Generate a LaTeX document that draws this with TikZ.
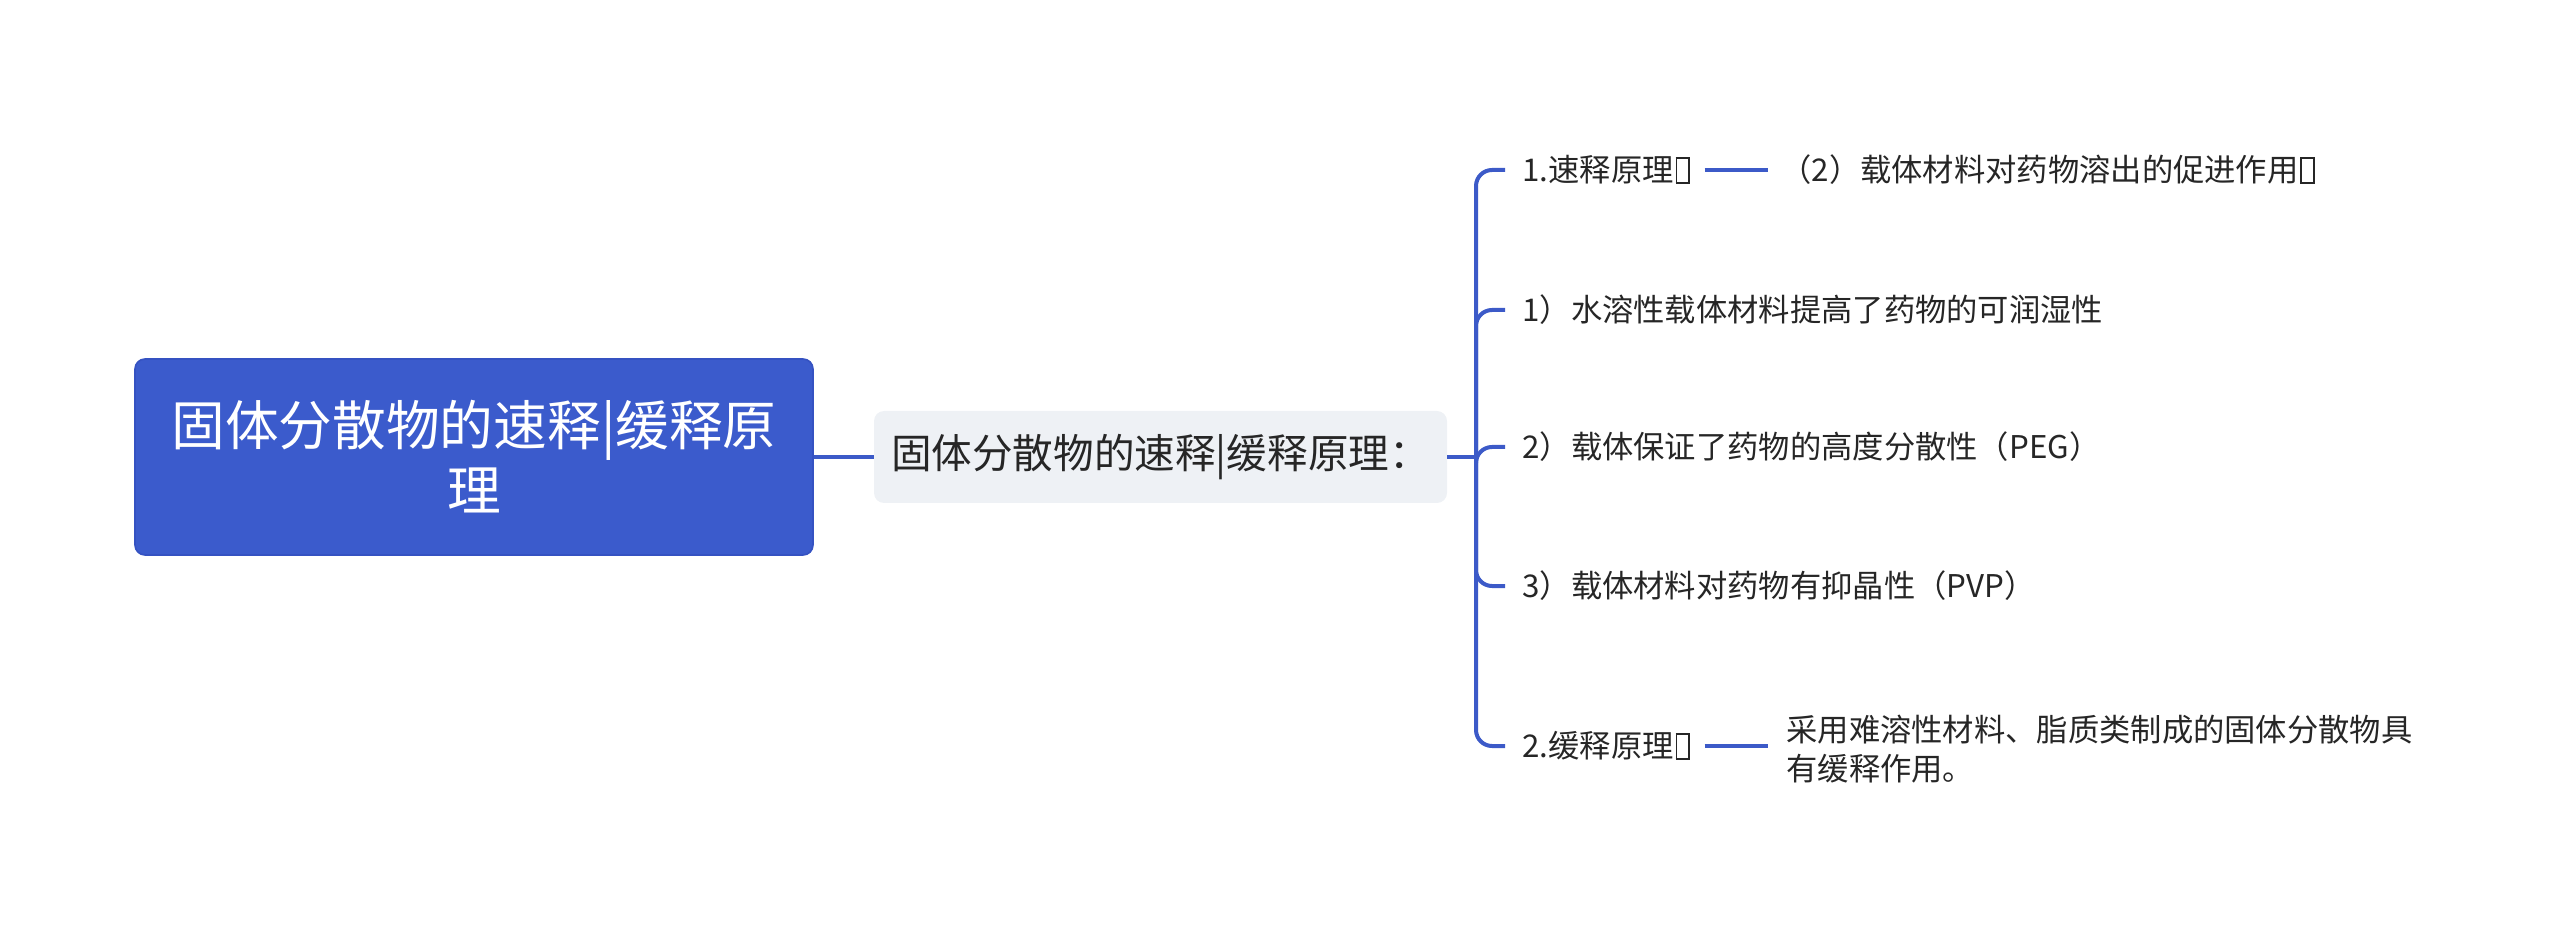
\documentclass[tikz,border=0pt]{standalone}
\usepackage{fontspec}
\setmainfont{Noto Sans CJK SC}
\definecolor{mainblue}{HTML}{3B5BCC}
\definecolor{mainedge}{HTML}{3552C2}
\definecolor{linkblue}{HTML}{3C5AC8}
\definecolor{subfill}{HTML}{EEF1F5}
\definecolor{txt}{HTML}{262626}
\newcommand\tofubox{\kern0.06em{\fboxsep=0pt\fboxrule=0.06em\fbox{\rule{0pt}{0.74em}\kern0.34em}}\kern0.04em}
\begin{document}
\begin{tikzpicture}[x=0.5pt,y=-0.5pt,
  rootbox/.style={draw=mainedge,line width=0.8pt,fill=mainblue,rounded corners=5pt,
    minimum width=339pt,minimum height=98pt,inner sep=0pt,text=white,align=center,
    font=\fontsize{26.85pt}{32.5pt}\selectfont},
  subbox/.style={fill=subfill,rounded corners=5pt,minimum width=286.5pt,minimum height=46pt,
    inner sep=0pt,text=txt,font=\fontsize{20.3pt}{24pt}\selectfont},
  leaf/.style={anchor=west,inner sep=0pt,text=txt,align=left,
    font=\fontsize{15.65pt}{19.5pt}\selectfont},
  conn/.style={draw=linkblue,line width=2pt},
  branch/.style={conn,rounded corners=8pt}]
\useasboundingbox (0,0) rectangle (2560,935);
\node[rootbox] (root) at (474,457) {固体分散物的速释|缓释原\\理};
\node[subbox] (sub) at (1160.5,457) {固体分散物的速释|缓释原理：};
\coordinate (j) at (1476,457);
\node[leaf] (l1) at (1522,170) {1.速释原理\tofubox};
\node[leaf] (l2) at (1522,310) {1）水溶性载体材料提高了药物的可润湿性};
\node[leaf] (l3) at (1522,447) {2）载体保证了药物的高度分散性（PEG）};
\node[leaf] (l4) at (1522,586) {3）载体材料对药物有抑晶性（PVP）};
\node[leaf] (l5) at (1522,746) {2.缓释原理\tofubox};
\node[leaf] (d1) at (1780,170) {（2）载体材料对药物溶出的促进作用\tofubox};
\node[leaf] (d5) at (1786,749) {采用难溶性材料、脂质类制成的固体分散物具\\有缓释作用。};
\draw[conn] (root.east) -- (sub.west);
\draw[conn] (sub.east) -- (j);
\foreach \n in {l1,l2,l3,l4,l5}
  \draw[branch] (j) |- ([xshift=-8.5pt]\n.west);
\draw[conn] ([xshift=6.5pt]l1.east) -- ([xshift=-6pt]d1.west);
\draw[conn] ([xshift=6.5pt]l5.east) -- ([xshift=-9pt]l5.east -| d5.west);
\end{tikzpicture}
\end{document}
